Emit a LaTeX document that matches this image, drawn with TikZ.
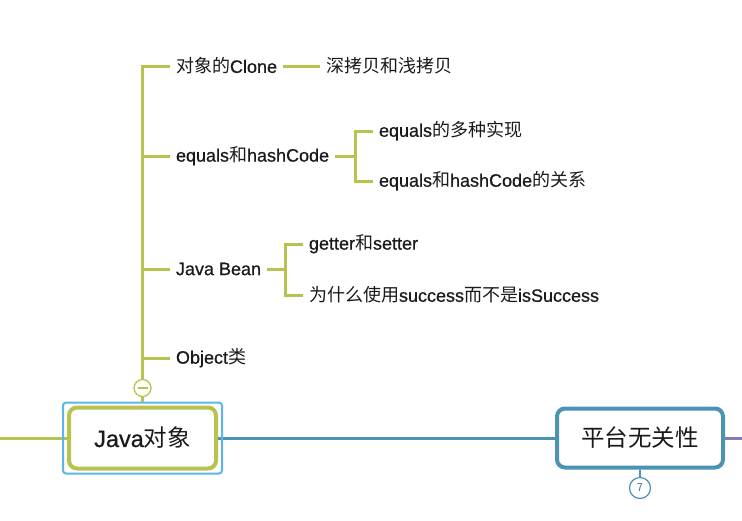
\documentclass[tikz,border=0pt]{standalone}
\usepackage{fontspec}
\setmainfont{Liberation Sans}[FakeBold=0.7]
\newfontfamily\cjk{Noto Sans CJK SC}
\definecolor{gbr}{HTML}{B8C24E}
\definecolor{bbr}{HTML}{4A93B5}
\definecolor{sel}{HTML}{5CB4EA}
\definecolor{pbr}{HTML}{8878C0}
\definecolor{txt}{HTML}{1A1A1A}
\newcommand{\zh}[1]{{\cjk #1}}
\begin{document}
\begin{tikzpicture}[x=1pt,y=-1pt,
  gl/.style={draw=gbr,line width=3pt},
  leaf/.style={anchor=west,inner sep=0pt,outer xsep=6pt,outer ysep=0pt,text=txt,font=\fontsize{18}{21}\selectfont},
  topic/.style={draw,line width=4pt,rounded corners=8pt,fill=white,text=txt,font=\fontsize{23.5}{28}\selectfont}]
\useasboundingbox (0,0) rectangle (742,520);
% main topic lines
\coordinate (L) at (0,438);
\coordinate (R) at (742,438);
\node[topic,draw=gbr,minimum width=147pt,minimum height=61pt] (java) at (142.5,438) {Java\zh{对象}};
\node[topic,draw=bbr,minimum width=166pt,minimum height=59pt] (plat) at (640,438) {\zh{平台无关性}};
\draw[gl] (L) -- (java.west);
\draw[draw=bbr,line width=3pt] (java.east) -- (plat.west);
\draw[draw=pbr,line width=3pt] (plat.east) -- (R);
\node[draw=sel,line width=2pt,rounded corners=3pt,minimum width=159pt,minimum height=71pt] (selbox) at (java.center) {};
% collapse badge
\node[circle,draw=bbr,line width=1.2pt,fill=white,minimum size=21pt,inner sep=0pt,text=bbr!80!black,font=\fontsize{11}{12}\selectfont\cjk] (seven) at (640,488) {7};
\draw[draw=bbr,line width=2pt] (plat.south) -- (seven.north);
% minus badge
\node[circle,draw=gbr,line width=1.3pt,fill=white,minimum size=17pt,inner sep=0pt] (minus) at (142.5,388) {};
\draw[gbr,line width=1.2pt] ([xshift=-5pt]minus.center) -- ([xshift=5pt]minus.center);
\draw[gl] (minus.south) -- (selbox.north);
% leaves
\node[leaf] (clone) at (170,66) {\zh{对象的}Clone};
\node[leaf] (deep) at (320,66) {\zh{深拷贝和浅拷贝}};
\node[leaf] (eq) at (170,156) {equals\zh{和}hashCode};
\node[leaf] (eq1) at (373,131) {equals\zh{的多种实现}};
\node[leaf] (eq2) at (373,181) {equals\zh{和}hashCode\zh{的关系}};
\node[leaf] (bean) at (170,269) {Java Bean};
\node[leaf] (gs) at (303,244) {getter\zh{和}setter};
\node[leaf] (why) at (303,295) {\zh{为什么使用}success\zh{而不是}isSuccess};
\node[leaf] (obj) at (170,358) {Object\zh{类}};
% trunk and branches
\coordinate (top) at (142.5,66);
\draw[gl] (minus.north) -- (top) -- (clone.west);
\coordinate (b2) at (142.5,156);
\coordinate (b3) at (142.5,269);
\coordinate (b4) at (142.5,358);
\draw[gl] (b2) -- (eq.west);
\draw[gl] (b3) -- (bean.west);
\draw[gl] (b4) -- (obj.west);
\draw[gl] (clone.east) -- (deep.west);
\coordinate (eqb) at (355,156);
\draw[gl] (eq.east) -- (eqb);
\draw[gl] (eq1.west) -| (eqb) |- (eq2.west);
\coordinate (beanb) at (285,269);
\draw[gl] (bean.east) -- (beanb);
\draw[gl] (gs.west) -| (beanb) |- (why.west);
\end{tikzpicture}
\end{document}
